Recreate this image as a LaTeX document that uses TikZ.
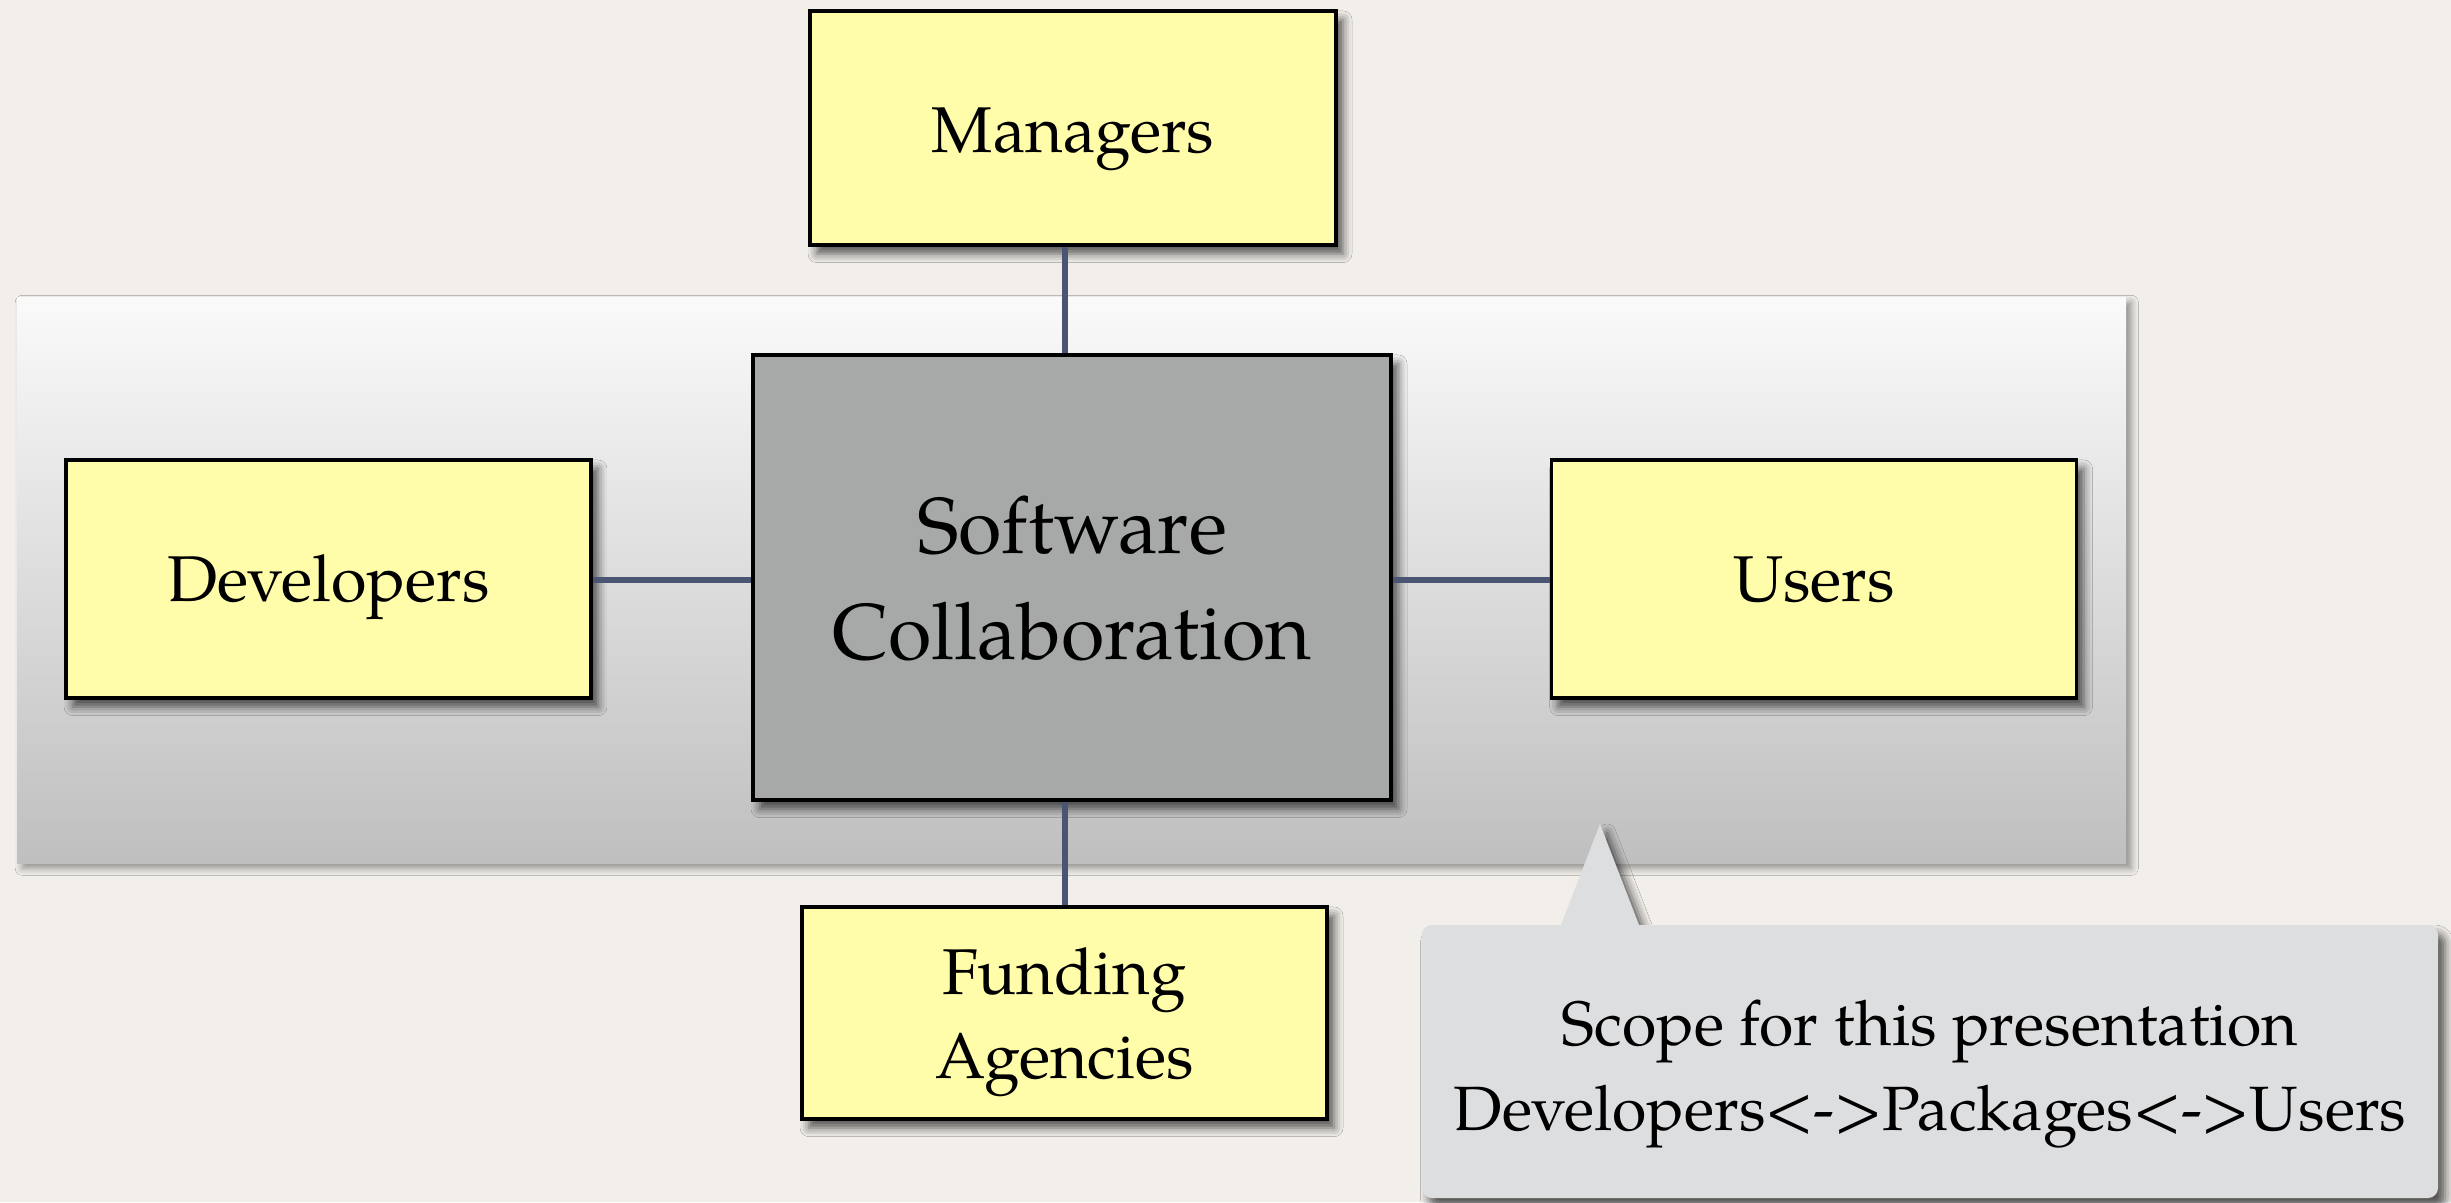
\documentclass[tikz,border=0pt]{standalone}
\usepackage{fontspec}
\setmainfont{TeX Gyre Pagella}
\usetikzlibrary{shadows.blur}

\definecolor{paper}{HTML}{F2EFEA}
\definecolor{stickyyellow}{HTML}{FFFDAA}
\definecolor{coregray}{HTML}{A6A9A8}
\definecolor{linkblue}{HTML}{4A5573}
\definecolor{bandtop}{HTML}{FAFAFA}
\definecolor{bandbottom}{HTML}{BFBFBF}
\definecolor{calloutgray}{HTML}{DDDEE0}

\begin{document}
\begin{tikzpicture}[x=0.01cm, y=-0.01cm,
  softshadow/.style={blur shadow={shadow xshift=2pt, shadow yshift=-2.5pt,
      shadow blur radius=2.5pt, shadow opacity=65}},
  card/.style={draw=black, line width=1pt, fill=stickyyellow, softshadow,
      minimum width=5.25cm, minimum height=2.36cm, inner sep=0pt,
      align=center, font=\fontsize{18.4}{24}\selectfont},
  oneline/.style={text height=13pt, text depth=0pt},
  core/.style={draw=black, line width=1pt, fill=coregray, softshadow,
      minimum width=6.38cm, minimum height=4.45cm, inner sep=0pt,
      align=center, font=\fontsize{22.5}{30}\selectfont},
  link/.style={draw=linkblue, line width=1.9pt},
  callout/.style={fill=calloutgray, softshadow},
  notetext/.style={inner sep=0pt, align=center, font=\fontsize{17.8}{24}\selectfont},
]
% paper background and page extent
\fill[paper] (0,0) rectangle (2451,1202);
\useasboundingbox (0,0) rectangle (2451,1202);

% shaded band behind the middle row
\path[top color=bandtop, bottom color=bandbottom,
      blur shadow={shadow xshift=1.5pt, shadow yshift=-1.5pt, shadow blur radius=2pt, shadow opacity=40}]
  (17,297) rectangle (2126,863);

% boxes
\node[card, oneline, text height=14pt, minimum width=5.26cm, minimum height=2.34cm] (mgr) at (1073,128) {Managers};
\node[core, text depth=-2.6pt] (core) at (1072,577.5) {Software\\Collaboration};
\node[card, oneline, minimum height=2.38cm] (dev) at (328.5,579) {Developers};
\node[card, oneline, minimum height=2.38cm] (usr) at (1814,579) {Users};
\node[card, text depth=0pt, minimum height=2.12cm] (fund) at (1064.5,1013) {Funding\\Agencies};

% connectors
\coordinate (axis) at (1065,0);
\coordinate (row) at (0,580);
\draw[link] (mgr.south -| axis) -- (core.north -| axis);
\draw[link] (core.south -| axis) -- (fund.north -| axis);
\draw[link] (dev.east |- row) -- (core.west |- row);
\draw[link] (core.east |- row) -- (usr.west |- row);

% speech bubble with pointer into the band
\path[callout] (1561,925) -- (1600,824) -- (1639,925)
  [rounded corners=1mm] -- (2438,925) -- (2438,1198) -- (1422,1198) -- (1422,925)
  [sharp corners] -- cycle;
\node[notetext] (note) at (1930,1074) {Scope for this presentation\\Developers<->Packages<->Users};
\end{tikzpicture}
\end{document}
